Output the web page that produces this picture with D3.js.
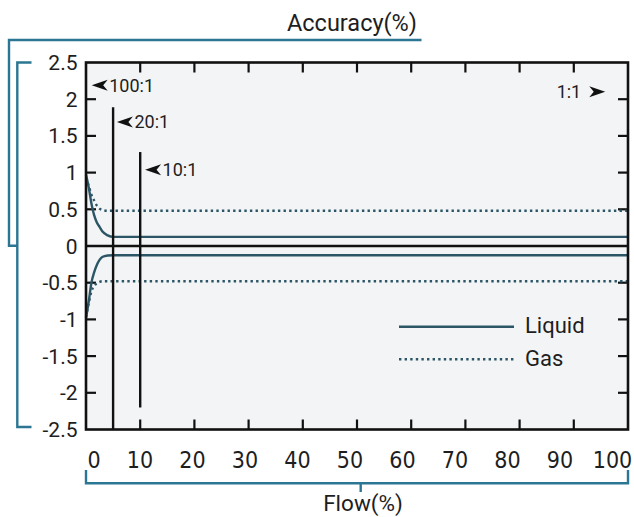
<!DOCTYPE html>
<html>
<head>
<meta charset="utf-8">
<script src="https://cdn.jsdelivr.net/npm/d3@7"></script>
<style>
    body { margin: 0; background: #fff; }
    text { font-family: Roboto, "Liberation Sans", sans-serif; fill: #1e1e1e; }
    .narrow { font-family: "Liberation Sans Narrow", "DejaVu Sans Condensed", Roboto, sans-serif; }
</style>
</head>
<body>
<div id="chart"></div>
<script>
// flow (%) sample points and accuracy (%) envelopes
const flowPts = [0, 0.5, 1, 1.5, 2, 2.5, 3, 4, 5, 100];
const liquidUpper = [0.97, 0.8, 0.58, 0.42, 0.32, 0.26, 0.2, 0.145, 0.125, 0.125];
const liquidLower = [-0.98, -0.76, -0.5, -0.36, -0.26, -0.19, -0.15, -0.13, -0.125, -0.125];
const gasUpper = [0.93, 0.82, 0.7, 0.62, 0.55, 0.51, 0.49, 0.48, 0.48, 0.48];
const gasLower = [-0.97, -0.78, -0.62, -0.54, -0.51, -0.49, -0.48, -0.48, -0.48, -0.48];

// turndown markers: flow, top, bottom
const markerFlows = [5, 10];
const markerTops = [1.89, 1.28];
const markerBottoms = [-2.5, -2.2];

// ratio labels: text, flow, accuracy, direction
const ratioTexts = ['100:1', '20:1', '10:1', '1:1'];
const ratioFlows = [1.05, 5.7, 10.9, 95.8];
const ratioAcc = [2.19, 1.69, 1.04, 2.1];
const ratioDirs = [-1, -1, -1, 1];

const xTicks = [0, 10, 20, 30, 40, 50, 60, 70, 80, 90, 100];
const yTicks = [-2.5, -2, -1.5, -1, -0.5, 0, 0.5, 1, 1.5, 2, 2.5];

const seriesNames = ['Liquid', 'Gas'];

const W = 634, H = 517;
const lineColor = '#2c5666';
const bracketColor = '#2b7693';

const svg = d3.select('#chart').append('svg')
    .attr('width', W)
    .attr('height', H);

const x = d3.scaleLinear().domain([0, 100]).range([86, 628]);
const xLabel = d3.scaleLinear().domain([10, 100]).range([140, 612.5]);
const y = d3.scaleLinear().domain([-2.5, 2.5]).range([429.5, 62.5]);

const x0 = x(0), x1 = x(100), yTop = y(2.5), yBot = y(-2.5);

// plot background
svg.append('rect')
    .attr('x', x0).attr('y', yTop)
    .attr('width', x1 - x0).attr('height', yBot - yTop)
    .attr('fill', '#f3f4f6');

// inner ticks, top/bottom and left/right
const tickLen = 10;
const inner = xTicks.slice(1, -1);
svg.append('g').selectAll('line.xt')
    .data(inner.flatMap(v => [[v, yTop, yTop + tickLen], [v, yBot, yBot - tickLen]]))
    .enter().append('line')
    .attr('x1', d => x(d[0])).attr('x2', d => x(d[0]))
    .attr('y1', d => d[1]).attr('y2', d => d[2])
    .attr('stroke', '#111').attr('stroke-width', 2.2);

const innerY = yTicks.slice(1, -1).filter(v => v !== 0);
svg.append('g').selectAll('line.yt')
    .data(innerY.flatMap(v => [[v, x0, x0 + tickLen], [v, x1, x1 - tickLen]]))
    .enter().append('line')
    .attr('y1', d => y(d[0])).attr('y2', d => y(d[0]))
    .attr('x1', d => d[1]).attr('x2', d => d[2])
    .attr('stroke', '#111').attr('stroke-width', 2.2);

// curves
const line = d3.line()
    .x((d, i) => x(flowPts[i]))
    .y(d => y(d))
    .curve(d3.curveMonotoneX);

const curves = [
    {values: liquidUpper, dash: null},
    {values: liquidLower, dash: null},
    {values: gasUpper, dash: '2.4 3.2'},
    {values: gasLower, dash: '2.4 3.2'},
];

svg.append('g').selectAll('path')
    .data(curves)
    .enter().append('path')
    .attr('d', d => line(d.values))
    .attr('fill', 'none')
    .attr('stroke', lineColor)
    .attr('stroke-width', 2.4)
    .attr('stroke-dasharray', d => d.dash);

// zero line
svg.append('line')
    .attr('x1', x0).attr('x2', x1)
    .attr('y1', y(0)).attr('y2', y(0))
    .attr('stroke', '#111').attr('stroke-width', 2.6);

// turndown markers
svg.append('g').selectAll('line')
    .data(markerFlows)
    .enter().append('line')
    .attr('x1', d => x(d)).attr('x2', d => x(d))
    .attr('y1', (d, i) => y(markerTops[i]))
    .attr('y2', (d, i) => y(markerBottoms[i]))
    .attr('stroke', '#111').attr('stroke-width', 2.4);

// frame
svg.append('rect')
    .attr('x', x0).attr('y', yTop)
    .attr('width', x1 - x0).attr('height', yBot - yTop)
    .attr('fill', 'none')
    .attr('stroke', '#111').attr('stroke-width', 2.6);

// ratio labels with arrowheads
const arrow = 'M0,0 L16,-5.5 L11.5,0 L16,5.5 Z';
const ratios = ratioTexts.map((t, i) => ({
    text: t, px: x(ratioFlows[i]), py: y(ratioAcc[i]), dir: ratioDirs[i]
}));

const rg = svg.append('g').selectAll('g')
    .data(ratios)
    .enter().append('g')
    .attr('transform', d => `translate(${d.px},${d.py})`);

rg.append('path')
    .attr('d', arrow)
    .attr('transform', d => d.dir < 0 ? null : 'scale(-1,1)')
    .attr('fill', '#111');

rg.append('text')
    .attr('x', d => d.dir < 0 ? 17.5 : -24)
    .attr('y', 6.5)
    .attr('text-anchor', d => d.dir < 0 ? 'start' : 'end')
    .attr('font-size', 18)
    .text(d => d.text);

// y tick labels
svg.append('g').selectAll('text')
    .data(yTicks)
    .enter().append('text')
    .attr('x', 77.5)
    .attr('y', d => y(d) + 7.5)
    .attr('text-anchor', 'end')
    .attr('font-size', 21)
    .text(d => d3.format('')(d).replace('−', '-'));

// x tick labels
svg.append('g').selectAll('text')
    .data(xTicks)
    .enter().append('text')
    .attr('class', 'narrow')
    .attr('x', d => d === 0 ? x0 + 1.5 : xLabel(d))
    .attr('y', 468)
    .attr('text-anchor', d => d === 0 ? 'start' : 'middle')
    .attr('font-size', 23)
    .text(d => d);

// legend
const legendX = 399, legendW = 115;
const legend = svg.append('g').selectAll('g')
    .data(seriesNames)
    .enter().append('g')
    .attr('transform', (d, i) => `translate(${legendX},${326.7 + i * 32.6})`);

legend.append('line')
    .attr('x1', 0).attr('x2', legendW)
    .attr('stroke', lineColor)
    .attr('stroke-width', 2.4)
    .attr('stroke-dasharray', (d, i) => i === 0 ? null : '2.4 3.2');

legend.append('text')
    .attr('x', legendW + 11)
    .attr('y', 6.5)
    .attr('font-size', 22)
    .text(d => d);

// brackets
const bracket = (pts) => svg.append('path')
    .attr('d', d3.line()(pts))
    .attr('fill', 'none')
    .attr('stroke', bracketColor)
    .attr('stroke-width', 2.4);

bracket([[421.5, 40], [9, 40], [9, 245.7], [17, 245.7]]);
bracket([[31.5, yTop], [17.3, yTop], [17.3, yBot - 2.5], [31.5, yBot - 2.5]]);
bracket([[x0, 470], [x0, 483.3], [x1, 483.3], [x1, 470]]);
bracket([[360.7, 483.3], [360.7, 492]]);

// axis titles
svg.append('text')
    .attr('x', 417)
    .attr('y', 30.5)
    .attr('text-anchor', 'end')
    .attr('font-size', 23.5)
    .text('Accuracy(%)');

svg.append('text')
    .attr('x', 363)
    .attr('y', 510.5)
    .attr('text-anchor', 'middle')
    .attr('font-size', 22.5)
    .text('Flow(%)');
</script>
</body>
</html>
